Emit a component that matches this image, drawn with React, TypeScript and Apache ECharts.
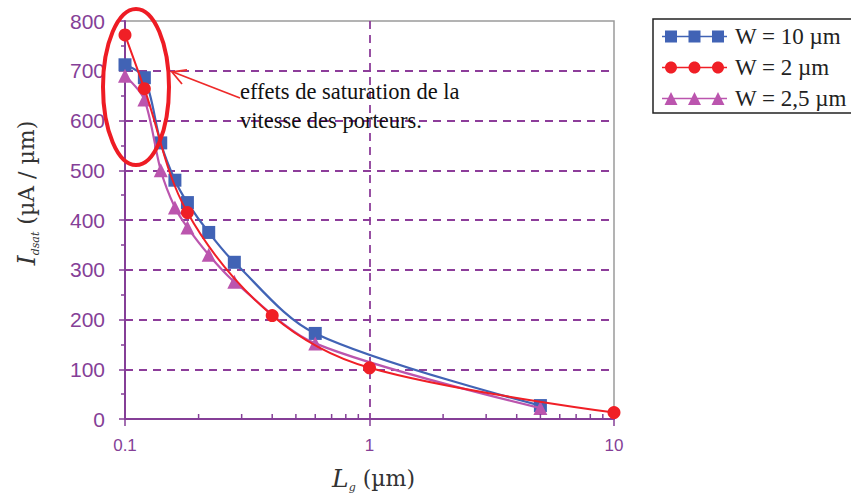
import React, { useEffect, useRef } from "react";
import * as echarts from "echarts";

// ---- data ----
const lengthsW10 = [0.1, 0.12, 0.14, 0.16, 0.18, 0.22, 0.28, 0.6, 5];
const currentW10 = [712, 686, 555, 480, 435, 375, 315, 172, 27];
const lengthsW2 = [0.1, 0.12, 0.18, 0.4, 1, 10];
const currentW2 = [772, 664, 415, 208, 103, 13];
const lengthsW25 = [0.1, 0.12, 0.14, 0.16, 0.18, 0.22, 0.28, 0.6, 5];
const currentW25 = [690, 642, 500, 425, 385, 330, 276, 152, 22];
const seriesNames = ["W = 10 µm", "W = 2 µm", "W = 2,5 µm"];
const xTickValues = [0.1, 1, 10];
const xTickLabels = ["0.1", "1", "10"];
const xMinorTicks = [0.2, 0.3, 0.4, 0.5, 0.6, 0.7, 0.8, 0.9, 2, 3, 4, 5, 6, 7, 8, 9];

const BLUE = "#4163b5";
const RED = "#f01f26";
const MAGENTA = "#bb55ae";
const PURPLE = "#853f97";
const GRID = "#8d3d9a";

const centers = [9, 32.5, 56];
const lineBar = "M0,6.2H65V7.8H0Z";
function squaresPath() {
  return "path://" + lineBar + centers.map((c) => `M${c - 6},1H${c + 6}V13H${c - 6}Z`).join("");
}
function circlesPath() {
  const r = 6, k = 0.5523 * r, cy = 7;
  return (
    "path://" +
    lineBar +
    centers
      .map(
        (c) =>
          `M${c - r},${cy}C${c - r},${cy - k} ${c - k},${cy - r} ${c},${cy - r}C${c + k},${cy - r} ${c + r},${cy - k} ${c + r},${cy}C${c + r},${cy + k} ${c + k},${cy + r} ${c},${cy + r}C${c - k},${cy + r} ${c - r},${cy + k} ${c - r},${cy}Z`
      )
      .join("")
  );
}
function trianglesPath() {
  return "path://" + lineBar + centers.map((c) => `M${c - 6.5},13.5L${c},0.5L${c + 6.5},13.5Z`).join("");
}

function pairs(xs: number[], ys: number[]) {
  return xs.map((x, i) => [x, ys[i]]);
}

const nameRich = {
  i: { fontFamily: "DejaVu Serif", fontStyle: "italic", fontSize: 25, lineHeight: 30, color: "#333" },
  s: { fontFamily: "DejaVu Serif", fontStyle: "italic", fontSize: 11, lineHeight: 12, verticalAlign: "bottom", color: "#333" },
  n: { fontFamily: "DejaVu Serif", fontSize: 22, lineHeight: 30, color: "#333" },
};

export default function App() {
  const ref = useRef<HTMLDivElement>(null);
  useEffect(() => {
    if (!ref.current) return;
    const chart = echarts.init(ref.current, undefined, { renderer: "svg" });
    const option: any = {
      animation: false,
      backgroundColor: "#ffffff",
      grid: {
        left: 125,
        right: 237,
        top: 21,
        bottom: 80,
        show: true,
        borderColor: "#9a9a9a",
        borderWidth: 1.5,
        backgroundColor: "transparent",
      },
      legend: {
        orient: "vertical",
        left: 653,
        top: 19,
        padding: [6, 5, 3, 9],
        borderColor: "#222",
        borderWidth: 1.5,
        itemWidth: 65,
        itemHeight: 14,
        itemGap: 8,
        itemStyle: { borderWidth: 0 },
        textStyle: {
          fontFamily: "Liberation Serif",
          fontSize: 23,
          lineHeight: 22,
          color: "#222",
          padding: [0, 0, 0, 3],
        },
        data: [
          { name: seriesNames[0], icon: squaresPath() },
          { name: seriesNames[1], icon: circlesPath() },
          { name: seriesNames[2], icon: trianglesPath() },
        ],
      },
      xAxis: {
        type: "log",
        logBase: 10,
        min: 0.1,
        max: 10,
        name: "{i|L}{s|g}{n| (µm)}",
        nameLocation: "middle",
        nameGap: 44,
        nameTextStyle: { rich: nameRich, padding: [0, 0, 0, 8] },
        axisLine: { show: true, lineStyle: { color: PURPLE, width: 2 } },
        axisTick: { show: true, length: 7, lineStyle: { color: PURPLE, width: 1.5 } },
        axisLabel: {
          color: PURPLE,
          fontFamily: "Liberation Sans",
          fontSize: 17,
          margin: 18,
          formatter: (v: number) => {
            const idx = xTickValues.findIndex((t) => Math.abs(Math.log10(t) - Math.log10(v)) < 1e-6);
            return idx >= 0 ? xTickLabels[idx] : "";
          },
        },
        splitLine: {
          show: true,
          showMinLine: false,
          showMaxLine: false,
          lineStyle: { color: GRID, type: [8, 6], width: 1.8 },
        },
      },
      yAxis: {
        type: "value",
        min: 0,
        max: 800,
        interval: 100,
        name: "{i|I}{s|dsat}{n| (µA / µm)}",
        nameLocation: "middle",
        nameGap: 84,
        nameTextStyle: { rich: nameRich, padding: [0, 0, 0, 54] },
        axisLine: { show: true, lineStyle: { color: PURPLE, width: 2 } },
        axisTick: { show: true, length: 6, lineStyle: { color: PURPLE, width: 1.5 } },
        minorTick: { show: true, splitNumber: 2, length: 4, lineStyle: { color: PURPLE, width: 1.5 } },
        axisLabel: {
          color: PURPLE,
          fontFamily: "Liberation Sans",
          fontSize: 21,
          margin: 20,
        },
        splitLine: {
          show: true,
          showMinLine: false,
          showMaxLine: false,
          lineStyle: { color: GRID, type: [8, 6], width: 1.8 },
        },
      },
      series: [
        {
          name: seriesNames[0],
          type: "line",
          data: pairs(lengthsW10, currentW10),
          smooth: 0.32,
          symbol: "rect",
          symbolSize: 13,
          itemStyle: { color: BLUE },
          lineStyle: { color: BLUE, width: 2.2 },
          z: 3,
        },
        {
          name: seriesNames[2],
          type: "line",
          data: pairs(lengthsW25, currentW25),
          smooth: 0.3,
          symbol: "triangle",
          symbolSize: 14,
          itemStyle: { color: MAGENTA },
          lineStyle: { color: MAGENTA, width: 2.2 },
          z: 4,
        },
        {
          name: seriesNames[1],
          type: "line",
          data: pairs(lengthsW2, currentW2),
          smooth: 0.35,
          symbol: "circle",
          symbolSize: 13,
          itemStyle: { color: RED },
          lineStyle: { color: RED, width: 2 },
          z: 5,
        },
        {
          type: "custom",
          silent: true,
          z: 6,
          data: xMinorTicks.map((v) => [v, 0]),
          renderItem: (params: any, api: any) => {
            const p = api.coord([api.value(0), 0]);
            return {
              type: "line",
              shape: { x1: p[0], y1: p[1], x2: p[0], y2: p[1] - 5 },
              style: { stroke: PURPLE, lineWidth: 1.5 },
            };
          },
        },
      ],
      graphic: [
        {
          type: "ellipse",
          shape: { cx: 136, cy: 87, rx: 33, ry: 78 },
          style: { fill: "none", stroke: "#ee1c24", lineWidth: 4 },
          z: 100,
        },
        {
          type: "line",
          shape: { x1: 240, y1: 98, x2: 173, y2: 72 },
          style: { stroke: "#ee2a2a", lineWidth: 1.8 },
          z: 100,
        },
        {
          type: "polyline",
          shape: { points: [[187, 70], [172, 72], [182, 84]] },
          style: { stroke: "#ee2a2a", lineWidth: 1.8, fill: "none" },
          z: 100,
        },
        {
          type: "text",
          x: 240,
          y: 77,
          style: {
            text: "effets de saturation de la\nvitesse des porteurs.",
            font: '22.5px "Liberation Serif"',
            fill: "#111",
            lineHeight: 29,
            verticalAlign: "top",
          },
          z: 100,
        },
      ],
    };
    chart.setOption(option);
    return () => chart.dispose();
  }, []);
  return (
    <div
      ref={ref}
      style={{ position: "fixed", left: 0, top: 0, width: 851, height: 499, background: "#fff" }}
    />
  );
}
